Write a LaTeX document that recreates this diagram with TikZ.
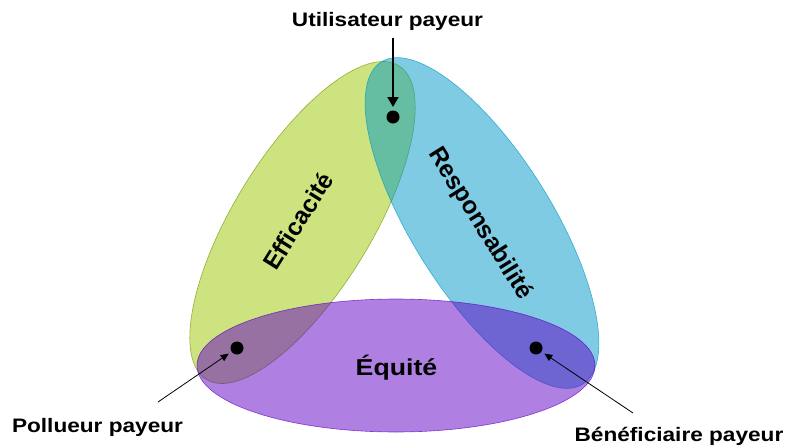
\documentclass[tikz,border=0pt]{standalone}
\usepackage{fontspec}
\setmainfont{Liberation Sans}
\usepackage{tikz}
\usetikzlibrary{arrows.meta}

\definecolor{vert}{RGB}{155,199,0}
\definecolor{bleu}{RGB}{0,151,199}
\definecolor{mauve}{RGB}{95,0,195}

\tikzset{
  zone/.style={fill opacity=0.5, draw opacity=0.7, line width=0.6pt},
  payeur/.style={font=\bfseries\fontsize{19.5}{22}\selectfont, xscale=1.16, anchor=base, inner sep=0pt},
  pilier/.style={font=\bfseries\fontsize{23}{26}\selectfont, inner sep=0pt},
  point/.style={circle, fill=black, minimum size=13pt, inner sep=0pt, outer sep=3.5pt}
}

\begin{document}
\begin{tikzpicture}[x=1pt, y=-1pt]
  \useasboundingbox (0,0) rectangle (788,447);

  % les trois principes
  \draw[zone, fill=vert, draw=vert!75!black, rotate around={58.5:(302.5,222.5)}]
    (302.5,222.5) ellipse [x radius=184pt, y radius=69pt];
  \draw[zone, fill=bleu, draw=bleu, rotate around={-58:(482,223)}]
    (482,223) ellipse [x radius=190pt, y radius=70pt];
  \draw[zone, fill=mauve, draw=mauve]
    (396,365.5) ellipse [x radius=199pt, y radius=66.5pt];

  \node[pilier, font=\bfseries\fontsize{24.5}{26}\selectfont, rotate=58] at (298,221) (efficacite) {Efficacité};
  \node[pilier, font=\bfseries\fontsize{24.5}{26}\selectfont, rotate=-58] at (480,224) (responsabilite) {Responsabilité};
  \node[pilier, xscale=1.16, anchor=base] at (396.5,375) (equite) {Équité};

  % les payeurs
  \node[point] at (393,117) (utilisateur) {};
  \node[point] at (237,348) (pollueur) {};
  \node[point] at (536,348) (beneficiaire) {};

  \node[payeur] at (387.5,26.7) (lblUtil) {Utilisateur payeur};
  \node[payeur] at (97.5,432.3) (lblPoll) {Pollueur payeur};
  \node[payeur] at (679,441.7) (lblBene) {Bénéficiaire payeur};

  \coordinate (dUtil) at (393,38);
  \coordinate (dPoll) at (158,402);
  \coordinate (dBene) at (633,413);

  \draw[-{Triangle[length=10pt, width=11pt]}, line width=2pt] (dUtil) -- (utilisateur);
  \draw[-{Triangle[length=8pt, width=7pt]}, line width=0.8pt] (dPoll) -- (pollueur);
  \draw[-{Triangle[length=8pt, width=7pt]}, line width=0.8pt] (dBene) -- (beneficiaire);
\end{tikzpicture}
\end{document}
